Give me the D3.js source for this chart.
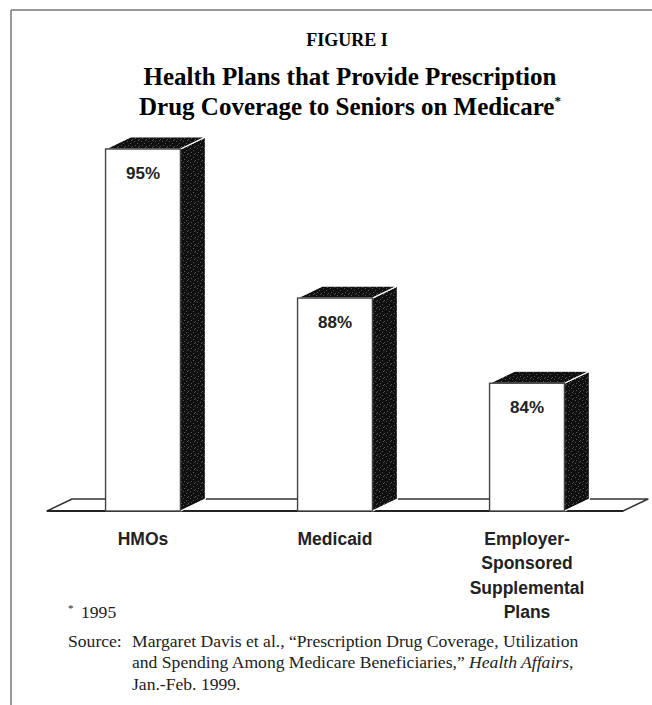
<!DOCTYPE html>
<html>
<head>
<meta charset="utf-8">
<script src="https://cdn.jsdelivr.net/npm/d3@7"></script>
<style>
  html, body { margin: 0; padding: 0; background: #fff; }
  svg { display: block; }
</style>
</head>
<body>
<svg id="chart" width="652" height="705"></svg>
<script>
// ---- data ----
const categories = ["HMOs", "Medicaid", "Employer-Sponsored Supplemental Plans"];
const categoryLines = [["HMOs"], ["Medicaid"], ["Employer-", "Sponsored", "Supplemental", "Plans"]];
const values = [95, 88, 84];
const valueLabels = ["95%", "88%", "84%"];
const figureLabel = "FIGURE I";
const titleLines = ["Health Plans that Provide Prescription", "Drug Coverage to Seniors on Medicare"];
const footnote = "1995";

const svg = d3.select("#chart");
const W = 652, H = 705;

// frame lines (top and left)
svg.append("line").attr("x1", 11).attr("y1", 10).attr("x2", W).attr("y2", 10)
  .attr("stroke", "#777").attr("stroke-width", 1.5);
svg.append("line").attr("x1", 11).attr("y1", 10).attr("x2", 11).attr("y2", H)
  .attr("stroke", "#777").attr("stroke-width", 1.5);

// titles
const serif = "'Liberation Serif', 'Times New Roman', serif";
svg.append("text").attr("x", 347).attr("y", 46).attr("text-anchor", "middle")
  .attr("font-family", serif).attr("font-weight", "bold").attr("font-size", 18)
  .text(figureLabel);
svg.append("text").attr("x", 350).attr("y", 85).attr("text-anchor", "middle")
  .attr("font-family", serif).attr("font-weight", "bold").attr("font-size", 25)
  .text(titleLines[0]);
const t2 = svg.append("text").attr("x", 350).attr("y", 115).attr("text-anchor", "middle")
  .attr("font-family", serif).attr("font-weight", "bold").attr("font-size", 25);
t2.append("tspan").text(titleLines[1]);
t2.append("tspan").attr("font-size", 13).attr("dy", -10).text("*");

// pattern for dark stippled faces
const defs = svg.append("defs");
const pat = defs.append("pattern").attr("id", "stip").attr("patternUnits", "userSpaceOnUse")
  .attr("width", 7).attr("height", 7);
pat.append("rect").attr("width", 7).attr("height", 7).attr("fill", "#101010");
[[1,1],[4,3],[2,5],[6,6],[5,0]].forEach(p => {
  pat.append("rect").attr("x", p[0]).attr("y", p[1]).attr("width", 1).attr("height", 1).attr("fill", "#555");
});

// scales
const x = d3.scaleBand().domain(categories).range([47, 623]).paddingInner(0.61).paddingOuter(0.305);
const y = d3.scaleLinear().domain([78, 95]).range([511, 149]);
const dx = 25, dy = 12;
const base = y(78);
const bw = x.bandwidth();

// floor
const [fx0, fx1] = x.range();
svg.append("polygon")
  .attr("points", [[fx0, base], [fx1, base], [fx1 + dx, base - dy], [fx0 + dx, base - dy]].map(p => p.join(",")).join(" "))
  .attr("fill", "#fff").attr("stroke", "#333").attr("stroke-width", 1.5).attr("stroke-linejoin", "round");
svg.append("line").attr("x1", fx0).attr("x2", fx1).attr("y1", base).attr("y2", base)
  .attr("stroke", "#222").attr("stroke-width", 2);

// bars
const bars = svg.selectAll("g.bar").data(categories).join("g").attr("class", "bar");
bars.each(function(c, i) {
  const g = d3.select(this);
  const x0 = x(c), x1 = x0 + bw, top = y(values[i]);
  g.append("polygon")
    .attr("points", [[x1, top], [x1 + dx, top - dy], [x1 + dx, base - dy], [x1, base]].map(p => p.join(",")).join(" "))
    .attr("fill", "url(#stip)").attr("stroke", "#fff").attr("stroke-width", 1.2);
  g.append("polygon")
    .attr("points", [[x0, top], [x0 + dx, top - dy], [x1 + dx, top - dy], [x1, top]].map(p => p.join(",")).join(" "))
    .attr("fill", "url(#stip)").attr("stroke", "#fff").attr("stroke-width", 1.2);
  g.append("rect").attr("x", x0).attr("y", top).attr("width", bw).attr("height", base - top)
    .attr("fill", "#fff").attr("stroke", "#444").attr("stroke-width", 1.4);
  g.append("text").attr("x", x0 + bw / 2).attr("y", top + 30).attr("text-anchor", "middle")
    .attr("font-family", "'Liberation Sans', Arial, sans-serif").attr("font-weight", "bold")
    .attr("font-size", 17).attr("fill", "#222").text(valueLabels[i]);
  const lab = g.append("text").attr("text-anchor", "middle")
    .attr("font-family", "'Liberation Sans', Arial, sans-serif").attr("font-weight", "bold")
    .attr("font-size", 17.5).attr("fill", "#222");
  categoryLines[i].forEach((ln, k) => {
    lab.append("tspan").attr("x", x0 + bw / 2).attr("y", 545 + k * 24.3).text(ln);
  });
});

// footnotes
const fn = svg.append("g").attr("font-family", serif).attr("font-size", 17.6).attr("fill", "#222");
fn.append("text").attr("x", 68).attr("y", 612).attr("font-size", 11).text("*");
fn.append("text").attr("x", 81).attr("y", 618).text(footnote);
fn.append("text").attr("x", 68).attr("y", 647).text("Source:");
fn.append("text").attr("x", 132).attr("y", 647)
  .text("Margaret Davis et al., \u201CPrescription Drug Coverage, Utilization");
const l2 = fn.append("text").attr("x", 132).attr("y", 668);
l2.append("tspan").text("and Spending Among Medicare Beneficiaries,\u201D ");
l2.append("tspan").attr("font-style", "italic").text("Health Affairs");
l2.append("tspan").text(",");
fn.append("text").attr("x", 132).attr("y", 690).text("Jan.-Feb. 1999.");
</script>
</body>
</html>
